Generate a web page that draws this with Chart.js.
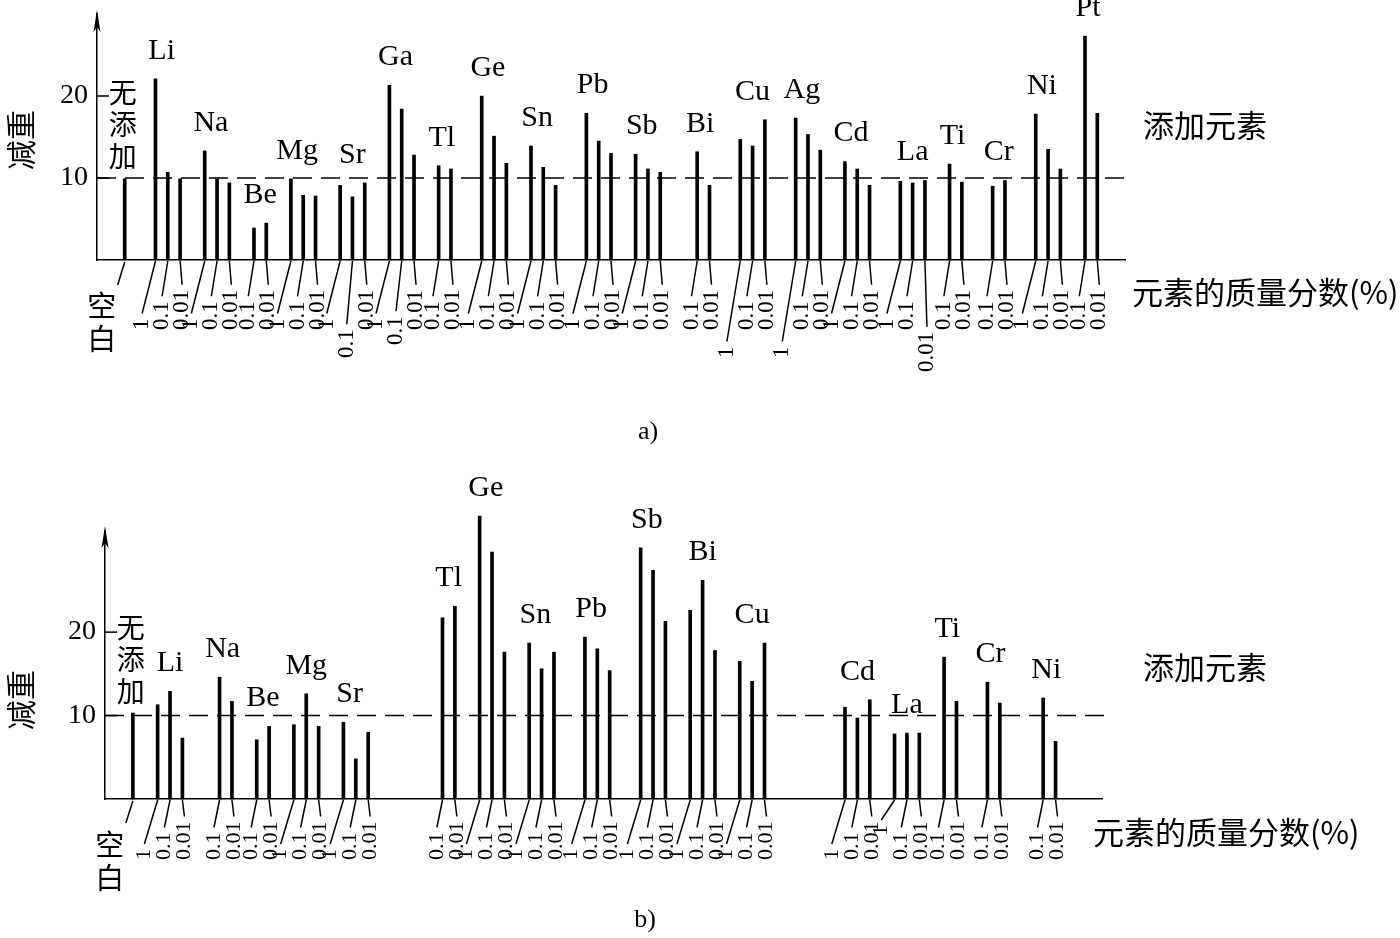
<!DOCTYPE html>
<html><head><meta charset="utf-8">
<script src="https://cdn.jsdelivr.net/npm/chart.js@4.4.1/dist/chart.umd.min.js"></script>
<style>
body{margin:0;background:#fff;width:1400px;height:938px;overflow:hidden;position:relative}
canvas{position:absolute;left:0}
</style></head>
<body>
<canvas id="ca" width="1400" height="460" style="top:0px"></canvas>
<canvas id="cb" width="1400" height="478" style="top:460px"></canvas>
<script>
// ---------- Panel a data ----------
const aGroups = ['无添加','Li','Na','Be','Mg','Sr','Ga','Tl','Ge','Sn','Pb','Sb','Bi','Cu','Ag','Cd','La','Ti','Cr','Ni','Pt'];
const aConc = [['空白'],['1','0.1','0.01'],['1','0.1','0.01'],['0.1','0.01'],['1','0.1','0.01'],['1','0.1','0.01'],
  ['1','0.1','0.01'],['0.1','0.01'],['1','0.1','0.01'],['1','0.1','0.01'],['1','0.1','0.01'],['1','0.1','0.01'],
  ['0.1','0.01'],['1','0.1','0.01'],['1','0.1','0.01'],['1','0.1','0.01'],['1','0.1','0.01'],['0.1','0.01'],
  ['0.1','0.01'],['1','0.1','0.01'],['0.1','0.01']];
const aLoss = [[9.9],[22.1,10.7,9.9],[13.3,9.9,9.4],[3.9,4.5],[9.9,7.9,7.8],[9.1,7.7,9.4],
  [21.3,18.4,12.8],[11.5,11.1],[20.0,15.1,11.8],[13.9,11.3,9.1],[17.9,14.5,13.0],[12.9,11.1,10.7],
  [13.2,9.1],[14.7,13.9,17.1],[17.3,15.3,13.4],[12.0,11.1,9.1],[9.6,9.4,9.7],[11.7,9.5],
  [9.0,9.7],[17.8,13.5,11.1],[27.3,17.9]];

// ---------- Panel b data ----------
const bGroups = ['无添加','Li','Na','Be','Mg','Sr','Tl','Ge','Sn','Pb','Sb','Bi','Cu','Cd','La','Ti','Cr','Ni'];
const bConc = [['空白'],['1','0.1','0.01'],['0.1','0.01'],['0.1','0.01'],['1','0.1','0.01'],['1','0.1','0.01'],
  ['0.1','0.01'],['1','0.1','0.01'],['1','0.1','0.01'],['1','0.1','0.01'],['1','0.1','0.01'],['1','0.1','0.01'],
  ['1','0.1','0.01'],['1','0.1','0.01'],['1','0.1','0.01'],['0.1','0.01'],['0.1','0.01'],['0.1','0.01']];
const bLoss = [[10.3],[11.3,12.9,7.3],[14.6,11.7],[7.1,8.7],[8.9,12.6,8.7],[9.2,4.8,8.0],
  [21.7,23.1],[33.9,29.6,17.6],[18.7,15.6,17.6],[19.4,18.0,15.4],[30.1,27.4,21.3],[22.6,26.2,17.8],
  [16.5,14.1,18.7],[11.0,9.7,11.9],[7.8,7.9,7.9],[17.0,11.7],[14.0,11.5],[12.1,6.9]];

const yTicks = [10, 20];
const refLine = 10;

// ---------- layout: empty half-slots before each group, after the last ----------
const aLeadSlots = [4,4,3,3,3,3,3,3,4,3,4,3,5,4,4,3,4,3,4,4,3];
const aTrailSlots = 4;
const bLeadSlots = [4,3,5,3,3,3,11,3,3,4,4,3,3,12,3,3,4,6];
const bTrailSlots = 7;
const aLabelDrop = {Sr:[0,28,0], Ga:[0,15,0], Cu:[28,0,0], Ag:[28,0,0], La:[0,0,42]};
const bLabelDrop = {La:[-24,0,0]};

const SERIF = '"Liberation Serif", "Noto Sans CJK SC", serif';
const CJK = '"Noto Sans CJK SC", "Liberation Serif", sans-serif';

function build(groups, conc, vals, lead, trail){
  const labels=[], data=[], spans=[];
  groups.forEach((g,i)=>{
    for(let k=0;k<lead[i];k++){labels.push('');data.push(null);}
    const idx=[];
    conc[i].forEach((c,j)=>{
      if(j>0){labels.push('');data.push(null);}
      idx.push(labels.length); labels.push(c); data.push(vals[i][j]);
    });
    const mx=Math.max(...vals[i]);
    spans.push({name:g, idx, conc:conc[i], max:mx, firstTallest: vals[i][0]===mx});
  });
  for(let k=0;k<trail;k++){labels.push('');data.push(null);}
  return {labels,data,spans};
}

function decoPlugin(spans, L){
  return {
    id:'deco',
    beforeDatasetsDraw(chart){
      const ctx=chart.ctx, y=chart.scales.y, ca=chart.chartArea;
      const yy=y.getPixelForValue(refLine);
      ctx.save();
      ctx.strokeStyle='#000'; ctx.lineWidth=1.5; ctx.setLineDash([19,9]);
      ctx.beginPath(); ctx.moveTo(ca.left,yy); ctx.lineTo(ca.right+L.dashExtra,yy); ctx.stroke();
      ctx.restore();
    },
    afterDraw(chart){
      const ctx=chart.ctx, x=chart.scales.x, y=chart.scales.y, ca=chart.chartArea;
      const base=y.getPixelForValue(0);
      ctx.save();
      ctx.fillStyle='#000'; ctx.strokeStyle='#000';
      // y-axis arrow
      ctx.lineWidth=1.5;
      ctx.beginPath(); ctx.moveTo(ca.left, ca.top); ctx.lineTo(ca.left, L.arrowTip+4); ctx.stroke();
      ctx.beginPath(); ctx.moveTo(ca.left, L.arrowTip); ctx.lineTo(ca.left-3.5, L.arrowTip+22);
      ctx.lineTo(ca.left, L.arrowTip+17); ctx.lineTo(ca.left+3.5, L.arrowTip+22); ctx.closePath(); ctx.fill();
      // inner tick marks
      yTicks.forEach(v=>{const p=y.getPixelForValue(v);ctx.beginPath();ctx.moveTo(ca.left,p);ctx.lineTo(ca.left+12,p);ctx.stroke();});
      // group labels, concentration labels and leaders
      spans.forEach((s,i)=>{
        const xs=s.idx.map(k=>x.getPixelForValue(k));
        const top=y.getPixelForValue(s.max);
        ctx.textAlign='center'; ctx.textBaseline='middle';
        if(i===0){
          ctx.font='28px '+CJK;
          const chars=[...s.name];
          chars.forEach((c,k)=>{ctx.fillText(c, xs[0]-2, top-22-(chars.length-1-k)*32);});
          ctx.lineWidth=1.5;
          ctx.beginPath(); ctx.moveTo(xs[0], base+2); ctx.lineTo(xs[0]-7, base+L.blankLead); ctx.stroke();
          ctx.font='29px '+CJK;
          const bc=[...s.conc[0]];
          bc.forEach((c,k)=>ctx.fillText(c, xs[0]-23, L.blankY+k*33));
          return;
        }
        ctx.font='30px '+SERIF;
        const mid=(xs[0]+xs[xs.length-1])/2;
        const lxName=s.firstTallest?(mid+xs[0])/2:mid;
        ctx.fillText(s.name, lxName, top-28);
        ctx.font=L.tickSize+'px '+SERIF;
        const n=xs.length, last=xs[n-1]+2;
        const drops=L.drops[s.name]||[];
        s.conc.forEach((c,j)=>{
          const lx=last-(n-1-j)*20;
          const bottom=base+L.labBottom+(drops[j]||0);
          const w=ctx.measureText(c).width;
          ctx.lineWidth=1.5;
          ctx.beginPath(); ctx.moveTo(xs[j], base+1); ctx.lineTo(lx, bottom-w-5); ctx.stroke();
          ctx.save(); ctx.translate(lx, bottom); ctx.rotate(-Math.PI/2);
          ctx.textAlign='left'; ctx.textBaseline='middle'; ctx.fillText(c,0,0); ctx.restore();
        });
      });
      // y title
      ctx.textAlign='center'; ctx.textBaseline='middle';
      ctx.save(); ctx.translate(21, L.yTitleY); ctx.rotate(-Math.PI/2);
      ctx.font='30px '+CJK; ctx.fillText('减重',0,0); ctx.restore();
      // right side titles
      ctx.textAlign='left';
      ctx.font='31px '+CJK;
      ctx.fillText('添加元素', 1143, L.addY);
      ctx.fillText('元素的质量分数(%)', L.massX, L.massY);
      // caption
      ctx.textAlign='center';
      ctx.font='26px '+SERIF;
      ctx.fillText(L.caption, L.capX, L.capY);
      ctx.restore();
    }
  };
}

function makeChart(id, built, L){
  return new Chart(document.getElementById(id), {
    type:'bar',
    data:{labels:built.labels, datasets:[{data:built.data, backgroundColor:'#000', borderWidth:0, barThickness:3, clip:false}]},
    options:{
      responsive:false, animation:false, devicePixelRatio:1,
      layout:{padding:{top:L.padTop, right:L.padRight, left:0, bottom:0}},
      plugins:{legend:{display:false}, tooltip:{enabled:false}},
      scales:{
        x:{
          grid:{display:false, drawTicks:false},
          border:{display:true, color:'#000', width:1.5},
          ticks:{display:false, autoSkip:false},
          afterFit(s){s.height=L.xHeight; s.paddingLeft=0; s.paddingRight=0;}
        },
        y:{
          min:0, max:L.yMax,
          grid:{display:false, drawTicks:false},
          border:{display:true, color:'#000', width:1.5},
          ticks:{stepSize:10, padding:9, color:'#000', font:{family:SERIF, size:28},
            callback:v=>yTicks.includes(v)?String(v):''},
          afterFit(s){s.width=L.yWidth; s.paddingTop=0; s.paddingBottom=0;}
        }
      }
    },
    plugins:[decoPlugin(built.spans, L)]
  });
}

const A = build(aGroups, aConc, aLoss, aLeadSlots, aTrailSlots);
const B = build(bGroups, bConc, bLoss, bLeadSlots, bTrailSlots);

makeChart('ca', A, {padTop:14, padRight:275, xHeight:200, yWidth:97, yMax:30, dashExtra:0, drops:aLabelDrop,
  tickSize:23, labBottom:70, blankLead:25, arrowTip:10, blankY:306, yTitleY:140, addY:125, massX:1132, massY:292,
  caption:'a)', capX:648, capY:432});
makeChart('cb', B, {padTop:72, padRight:298, xHeight:139, yWidth:105, yMax:32, dashExtra:10, drops:bLabelDrop,
  tickSize:22, labBottom:61, blankLead:24, arrowTip:66, blankY:385, yTitleY:240, addY:207, massX:1093, massY:372,
  caption:'b)', capX:645, capY:460});
</script>
</body></html>
